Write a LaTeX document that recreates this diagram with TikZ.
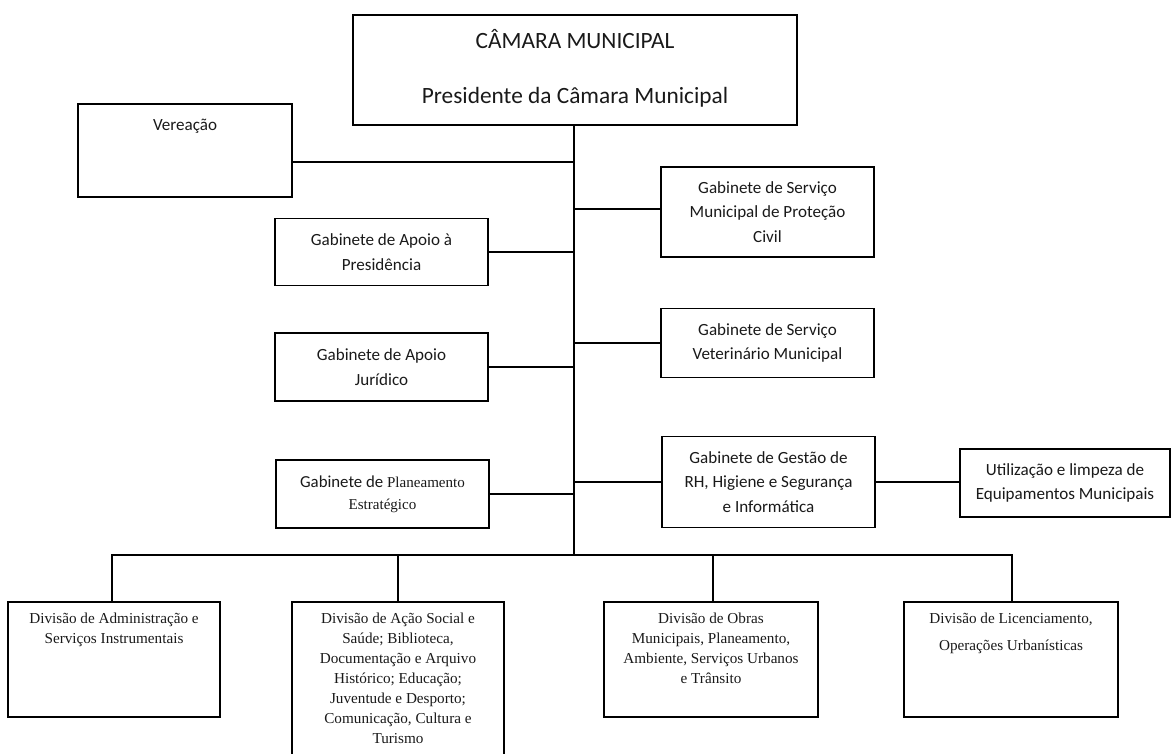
\documentclass[tikz,border=0pt]{standalone}
\usepackage{fontspec}
\setmainfont{Liberation Serif}
\newfontfamily\calfont{Carlito}
\newcommand{\px}[1]{\dimexpr #1pt*3/4\relax}
\newcommand{\tbox}[4]{\begin{minipage}[t][\px{#2}][t]{\px{#1}}\centering\vspace*{\px{#3}}#4\end{minipage}}
\tikzset{
  box/.style={draw, line width=1.1pt, inner sep=0pt, align=center, text=black!90},
  gab/.style={box, font=\calfont\fontsize{12.8}{18.4}\selectfont},
  div/.style={box, font=\fontsize{11.4}{15}\selectfont},
  wire/.style={line width=1.1pt},
}
\begin{document}
\begin{tikzpicture}[x=0.75pt,y=-0.75pt]
\path[use as bounding box] (0,0) rectangle (1173,753);
\clip (0,0) rectangle (1173,753);
% top
\node[box, font=\calfont\fontsize{17.5}{41.25}\selectfont, minimum width=444*0.75pt, minimum height=110*0.75pt] (top) at (575,70) {\tbox{444}{110}{14}{CÂMARA MUNICIPAL\\Presidente da Câmara Municipal}};
% left column
\node[box, font=\calfont\fontsize{12.8}{18.4}\selectfont] (vere) at (185,150.5) {\tbox{214}{93}{15}{Vereação}};
\node[gab, minimum width=213*0.75pt, minimum height=67*0.75pt] (pres) at (381.5,252) {Gabinete de Apoio à\\Presidência};
\node[gab, minimum width=213*0.75pt, minimum height=68*0.75pt] (jur) at (381.5,367) {Gabinete de Apoio\\Jurídico};
\node[box, font=\fontsize{11.3}{16.5}\selectfont, minimum width=213*0.75pt, minimum height=68*0.75pt] (plan) at (382.5,494) {{\calfont\fontsize{12.6}{16.5}\selectfont Gabinete de} Planeamento\\Estratégico};
% right column
\node[gab, minimum width=213*0.75pt, minimum height=90*0.75pt] (prot) at (767.5,212) {Gabinete de Serviço\\Municipal de Proteção\\Civil};
\node[gab, minimum width=213*0.75pt, minimum height=69*0.75pt] (vet) at (767.5,343) {Gabinete de Serviço\\Veterinário Municipal};
\node[gab, minimum width=213*0.75pt, minimum height=91*0.75pt] (rh) at (768.5,482) {Gabinete de Gestão de\\RH, Higiene e Segurança\\e Informática};
\node[gab, minimum width=210*0.75pt, minimum height=68*0.75pt] (util) at (1065,483) {Utilização e limpeza de\\Equipamentos Municipais};
% divisions
\node[div] (div1) at (114,659.5) {\tbox{212}{115}{11}{Divisão de Administração e\\Serviços Instrumentais}};
\node[div] (div2) at (398,683.5) {\tbox{212}{163}{11}{Divisão de Ação Social e\\Saúde; Biblioteca,\\Documentação e Arquivo\\Histórico; Educação;\\Juventude e Desporto;\\Comunicação, Cultura e\\Turismo}};
\node[div] (div3) at (711,659.5) {\tbox{214}{115}{11}{Divisão de Obras\\Municipais, Planeamento,\\Ambiente, Serviços Urbanos\\e Trânsito}};
\node[div] (div4) at (1011,659.5) {\tbox{214}{115}{11}{Divisão de Licenciamento,\\[\px{7}]Operações Urbanísticas}};
% trunk and branches
\coordinate (bus) at (574,555);
\coordinate (t1) at (574,162);
\coordinate (t2) at (574,209);
\coordinate (d1x) at (112,555);
\coordinate (d3x) at (713,555);
\coordinate (d4x) at (1012,555);
\draw[wire] (top.south -| bus) -- (bus);
\draw[wire] (t1) -- (t1 -| vere.east);
\draw[wire] (t2) -- (t2 -| prot.west);
\draw[wire] (pres.east) -- (pres.east -| bus);
\draw[wire] (vet.west) -- (vet.west -| bus);
\draw[wire] (jur.east) -- (jur.east -| bus);
\draw[wire] (rh.west) -- (rh.west -| bus);
\draw[wire] (plan.east) -- (plan.east -| bus);
\draw[wire] (rh.east) -- (rh.east -| util.west);
\draw[wire] (div1.north -| d1x) -- (d1x) -- (d4x) -- (div4.north -| d4x);
\draw[wire] (div2.north) -- (div2.north |- bus);
\draw[wire] (div3.north -| d3x) -- (d3x);
\end{tikzpicture}
\end{document}
